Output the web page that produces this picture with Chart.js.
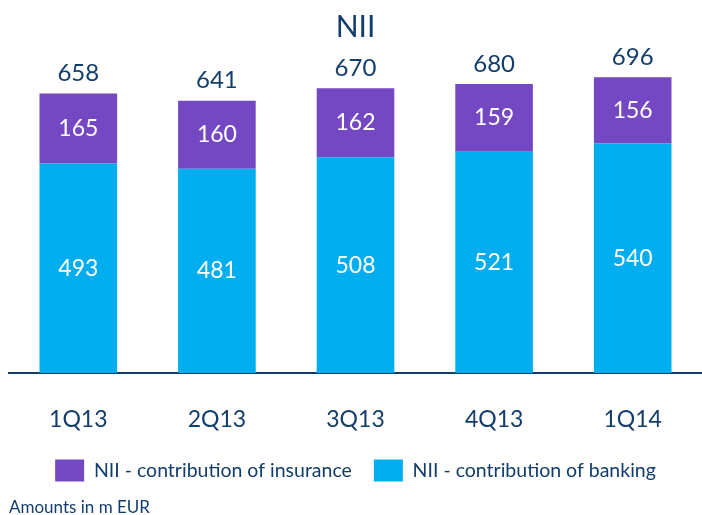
<!DOCTYPE html>
<html>
<head>
<meta charset="utf-8">
<script src="https://cdn.jsdelivr.net/npm/chart.js@4"></script>
<style>
  body { margin: 0; background: #fff; }
  #wrap { width: 702px; height: 515px; }
</style>
</head>
<body>
<div id="wrap"><canvas id="ch-nii"></canvas></div>
<script>
const quarters = ['1Q13', '2Q13', '3Q13', '4Q13', '1Q14'];
const banking = [493, 481, 508, 521, 540];
const insurance = [165, 160, 162, 159, 156];

const NAVY = '#123d6c';
const FONT = 'Lato';

// value labels inside the segments and totals on top
const valueLabels = {
    id: 'valueLabels',
    afterDatasetsDraw(chart) {
        const ctx = chart.ctx;
        ctx.save();
        ctx.textAlign = 'center';
        ctx.textBaseline = 'middle';
        chart.data.datasets.forEach((ds, di) => {
            const meta = chart.getDatasetMeta(di);
            meta.data.forEach((bar, i) => {
                ctx.fillStyle = '#fff';
                ctx.font = '23px ' + FONT;
                ctx.fillText(ds.data[i], bar.x, (bar.y + bar.base) / 2);
                if (di === chart.data.datasets.length - 1) {
                    const total = chart.data.datasets.reduce((s, d) => s + d.data[i], 0);
                    ctx.fillStyle = NAVY;
                    ctx.font = '24px ' + FONT;
                    ctx.fillText(total, bar.x, bar.y - 20);
                }
            });
        });
        ctx.restore();
    }
};

new Chart(document.getElementById('ch-nii'), {
    type: 'bar',
    data: {
        labels: quarters,
        datasets: [
            { label: 'NII - contribution of banking', data: banking, backgroundColor: '#00aeef', barPercentage: 0.56, categoryPercentage: 1 },
            { label: 'NII - contribution of insurance', data: insurance, backgroundColor: '#7548c3', barPercentage: 0.56, categoryPercentage: 1 }
        ]
    },
    options: {
        responsive: true, maintainAspectRatio: false, animation: false,
        layout: { padding: { left: 9, right: 0, top: 0, bottom: 0 } },
        plugins: {
            tooltip: { enabled: false },
            title: { display: true, text: 'NII', color: NAVY, font: { family: FONT, size: 30, weight: 'normal' }, padding: { top: 9, bottom: 0 } },
            legend: {
                position: 'bottom', reverse: true,
                labels: { color: NAVY, font: { family: FONT, size: 19.5 }, boxWidth: 29, boxHeight: 22, padding: 22 }
            },
            subtitle: {
                display: true, position: 'bottom', align: 'start', text: 'Amounts in m EUR',
                color: NAVY, font: { family: FONT, size: 17, lineHeight: 0.85 }, padding: { top: 9, bottom: 0 }
            }
        },
        scales: {
            x: {
                stacked: true,
                grid: { display: false, drawTicks: false },
                border: { display: true, color: NAVY, width: 2 },
                ticks: { color: NAVY, font: { family: FONT, size: 23 }, padding: 33 },
                afterFit: (scale) => { scale.height = 64.5; }
            },
            y: { stacked: true, display: false, min: 0, max: 772 }
        }
    },
    plugins: [valueLabels]
});
</script>
</body>
</html>
